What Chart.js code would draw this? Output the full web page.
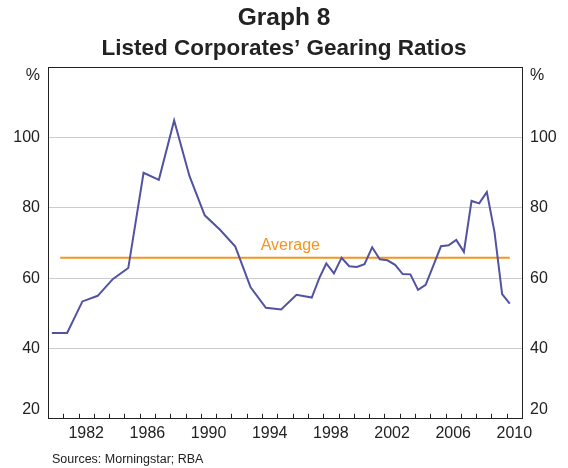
<!DOCTYPE html>
<html>
<head>
<meta charset="utf-8">
<script src="https://cdn.jsdelivr.net/npm/chart.js@4.4.1/dist/chart.umd.min.js"></script>
<style>
  html, body { margin: 0; padding: 0; background: #fff; }
  #wrap { width: 568px; height: 468px; }
</style>
</head>
<body>
<div id="wrap"><canvas id="gearing" width="568" height="468"></canvas></div>
<script>
// dates are decimal years (annual to 1997, half-yearly after)
const dates = [
  1980.25, 1981.25, 1982.25, 1983.25, 1984.25, 1985.25, 1986.25, 1987.25,
  1988.25, 1989.25, 1990.25, 1991.25, 1992.25, 1993.25, 1994.25, 1995.25,
  1996.25, 1997.25, 1997.75, 1998.2, 1998.7, 1999.2, 1999.7, 2000.2, 2000.7,
  2001.2, 2001.7, 2002.2, 2002.7, 2003.2, 2003.7, 2004.2, 2004.7, 2005.2,
  2005.7, 2006.2, 2006.7, 2007.2, 2007.7, 2008.2, 2008.7, 2009.2, 2009.7, 2010.2
];
const gearing = [
  44.4, 44.4, 53.4, 55.0, 59.8, 62.9, 90.0, 88.0,
  104.9, 89.1, 77.9, 73.8, 69.0, 57.4, 51.6, 51.1,
  55.3, 54.5, 60.1, 64.2, 61.4, 65.8, 63.4, 63.2, 64.0,
  68.8, 65.4, 65.1, 63.8, 61.2, 61.1, 56.7, 58.1, 63.6,
  69.1, 69.4, 70.9, 67.5, 82.0, 81.3, 84.5, 73.2, 55.5, 52.8
];
const averageSpan = [1980.8, 2010.2];
const averageValue = 65.8;
const tickYears = [1982, 1986, 1990, 1994, 1998, 2002, 2006, 2010];
const yMin = 20;
const yMax = 120;

const font = "'Liberation Sans', Arial, sans-serif";
const orange = '#f7941d';
const ink = '#222';

const decor = {
  id: 'decor',
  afterDraw(chart) {
    const ctx = chart.ctx;
    const a = chart.chartArea;
    const x = chart.scales.x;
    const y = chart.scales.y;
    ctx.save();
    // year tick marks pointing up from the bottom border
    ctx.strokeStyle = ink;
    ctx.lineWidth = 1;
    ctx.beginPath();
    for (let yr = 1981; yr <= 2010; yr++) {
      const px = Math.round(x.getPixelForValue(yr)) + 0.5;
      ctx.moveTo(px, a.bottom);
      ctx.lineTo(px, a.bottom - 5);
    }
    ctx.stroke();
    // frame
    ctx.strokeRect(Math.round(a.left) + 0.5, Math.round(a.top) + 0.5,
      Math.round(a.right - a.left), Math.round(a.bottom - a.top));
    // end labels of the value axes: '%' sits below the top, 20 sits on the bottom
    ctx.fillStyle = ink;
    ctx.font = '16px ' + font;
    ctx.textBaseline = 'middle';
    const topY = y.getPixelForValue(yMax) + 8;
    const botY = y.getPixelForValue(yMin) - 9;
    ctx.textAlign = 'right';
    ctx.fillText('%', a.left - 8, topY);
    ctx.fillText(String(yMin), a.left - 8, botY);
    ctx.textAlign = 'left';
    ctx.fillText('%', a.right + 8, topY);
    ctx.fillText(String(yMin), a.right + 8, botY);
    // average label
    ctx.fillStyle = orange;
    ctx.font = '16px ' + font;
    ctx.textAlign = 'center';
    ctx.fillText('Average', x.getPixelForValue(1995.85), y.getPixelForValue(69.4));
    // source
    ctx.fillStyle = ink;
    ctx.font = '12.5px ' + font;
    ctx.textAlign = 'left';
    ctx.fillText('Sources: Morningstar; RBA', 52, 460);
    ctx.restore();
  }
};

const yTickOpts = {
  min: yMin,
  max: yMax,
  ticks: {
    stepSize: 20,
    color: ink,
    font: { size: 16, family: font },
    padding: 8,
    callback: v => (v === yMin || v === yMax) ? '' : v
  }
};

new Chart(document.getElementById('gearing').getContext('2d'), {
  type: 'line',
  data: {
    datasets: [
      {
        label: 'Gearing ratio',
        data: dates.map((d, i) => ({ x: d, y: gearing[i] })),
        borderColor: '#5252a2',
        borderWidth: 2,
        pointRadius: 0,
        tension: 0
      },
      {
        label: 'Average',
        data: averageSpan.map(d => ({ x: d, y: averageValue })),
        borderColor: orange,
        borderWidth: 2,
        pointRadius: 0
      }
    ]
  },
  options: {
    responsive: false,
    animation: false,
    layout: { padding: { top: 0, bottom: 28, left: 0, right: 0 } },
    plugins: {
      legend: { display: false },
      tooltip: { enabled: false },
      title: {
        display: true,
        text: 'Graph 8',
        color: ink,
        font: { size: 24.5, weight: 'bold', family: font },
        padding: { top: 4, bottom: 2 }
      },
      subtitle: {
        display: true,
        text: 'Listed Corporates\u2019 Gearing Ratios',
        color: ink,
        font: { size: 22.5, weight: 'bold', family: font },
        padding: { top: 0, bottom: 5 }
      }
    },
    scales: {
      x: {
        type: 'linear',
        min: 1980,
        max: 2011,
        afterBuildTicks: s => { s.ticks = tickYears.map(t => ({ value: t + 0.5 })); },
        ticks: {
          color: ink,
          font: { size: 16, family: font },
          padding: -3,
          maxRotation: 0,
          autoSkip: false,
          callback: v => Math.floor(v)
        },
        grid: { display: false },
        border: { display: false }
      },
      y: {
        ...yTickOpts,
        position: 'left',
        afterFit: s => { s.width = 48; },
        grid: {
          drawTicks: false,
          color: c => (c.tick.value === yMin || c.tick.value === yMax) ? 'rgba(0,0,0,0)' : '#cccccc'
        },
        border: { display: false }
      },
      y2: {
        ...yTickOpts,
        position: 'right',
        afterFit: s => { s.width = 46; },
        grid: { display: false, drawTicks: false },
        border: { display: false }
      }
    }
  },
  plugins: [decor]
});
</script>
</body>
</html>
